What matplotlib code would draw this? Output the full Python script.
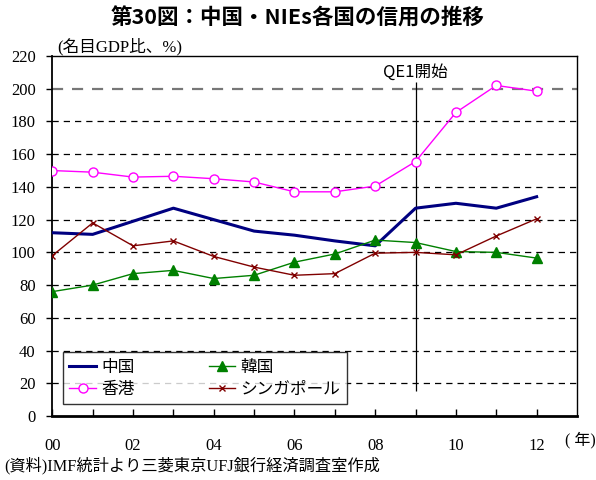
import matplotlib
matplotlib.use("Agg")
import matplotlib.pyplot as plt

# ---- data ----
years = list(range(0, 13))
xtick_labels = ["00", "", "02", "", "04", "", "06", "", "08", "", "10", "", "12"]
china = [112, 111, 119, 127, 120, 113, 110.5, 107, 104, 127, 130, 127, 134]
korea = [76, 80, 87, 89, 84, 86, 94, 99, 107.5, 106, 100.5, 100, 96.5]
hongkong = [150, 149, 146, 146.5, 145, 143, 137, 137, 140.5, 155.5, 185.5, 202, 198.5]
singapore = [98, 118, 104, 107, 97.5, 91, 86, 87, 99.5, 100, 98.5, 110, 120.5]
series_names = ["中国", "韓国", "香港", "シンガポール"]
yticks = list(range(0, 221, 20))
qe1_year = 9
qe1_span = (15, 204)

title = "第30図：中国・NIEs各国の信用の推移"
unit_label = "(名目GDP比、%)"
year_label = "( 年)"
source = "(資料)IMF統計より三菱東京UFJ銀行経済調査室作成"
qe1_label = "QE1開始"

JP = ["Noto Sans CJK JP", "DejaVu Sans"]
SERIF = ["Liberation Serif", "Noto Sans CJK JP"]

fig = plt.figure(figsize=(5.96, 4.8), dpi=100)
ax = fig.add_axes([52.3 / 596, 64 / 480, (577 - 52.3) / 596, 360 / 480])

ax.plot(years, china, color="#000080", lw=2.2, label=series_names[0], zorder=4)
ax.plot(years, hongkong, color="#FF00FF", lw=1.0, marker="o", ms=6.5,
        mfc="white", mec="#FF00FF", mew=1.0, label=series_names[2], zorder=4)
ax.plot(years, korea, color="#008000", lw=1.0, marker="^", ms=7,
        mfc="#008000", mec="#008000", label=series_names[1], zorder=4)
ax.plot(years, singapore, color="#800000", lw=1.0, marker="x", ms=5,
        mew=1.0, label=series_names[3], zorder=4)

ax.vlines(qe1_year, qe1_span[0], qe1_span[1], color="black", lw=0.9, zorder=3)
ax.text(qe1_year, 210, qe1_label, ha="center", va="center", fontsize=12,
        family=JP)

ax.set_xlim(0, 13)
ax.set_ylim(0, 220)
ax.set_xticks(years)
ax.set_xticklabels(xtick_labels, family=SERIF, fontsize=12)
ax.set_yticks(yticks)
ax.set_yticklabels([str(v) for v in yticks], family=SERIF, fontsize=12)
ax.tick_params(axis="x", direction="in", length=5, width=1, pad=16)
ax.tick_params(axis="y", direction="out", length=4, width=1, pad=8)

ax.grid(axis="y", linestyle=(0, (5, 4)), color="black", lw=0.9)
for val, gl in zip(yticks, ax.yaxis.get_gridlines()):
    if val == 200:
        gl.set_color("#777777")
        gl.set_linewidth(1.6)
    if val in (0, 220):
        gl.set_visible(False)
ax.set_axisbelow(True)

for side, lw in (("bottom", 2.0), ("left", 1.3), ("top", 1.0), ("right", 1.0)):
    ax.spines[side].set_linewidth(lw)
    ax.spines[side].set_color("black")

h, l = ax.get_legend_handles_labels()
leg = fig.legend(h, l, loc="upper left", ncol=2, mode="expand",
                 bbox_to_anchor=(62.7 / 596, 75 / 480, 284 / 596, 53 / 480),
                 borderaxespad=0, frameon=True, fancybox=False,
                 edgecolor="black", handlelength=1.6, handletextpad=0.3,
                 prop={"family": JP, "size": 12}, labelspacing=0.3)
leg.get_frame().set_linewidth(1.0)

fig.text(0.5, 1 - 18 / 480, title, ha="center", va="center", fontsize=15.5,
         family=JP, weight="bold")
fig.text(57 / 596, 1 - 47 / 480, unit_label, ha="left", va="center",
         fontsize=12, family=SERIF)
fig.text(565 / 596, 1 - 440 / 480, year_label, ha="left", va="center",
         fontsize=11.5, family=SERIF)
fig.text(4 / 596, 1 - 466 / 480, source, ha="left", va="center",
         fontsize=11.7, family=SERIF)

fig.savefig("out.png", dpi=100)
